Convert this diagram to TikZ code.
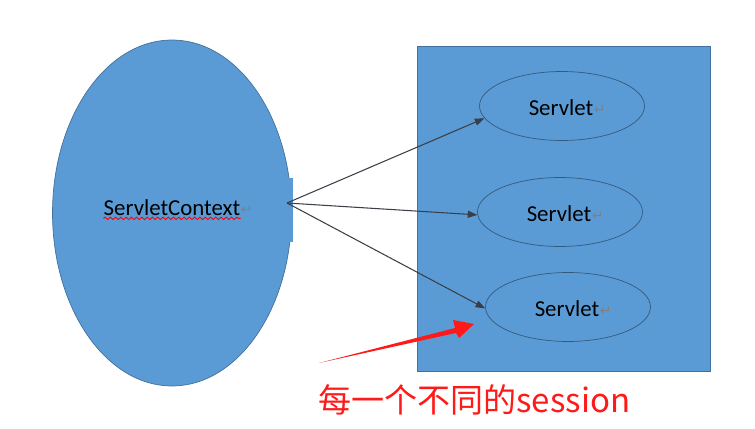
\documentclass[tikz,border=0pt]{standalone}
\usepackage{fontspec}
\setmainfont{Carlito}
\newfontfamily\cjk{Noto Sans CJK SC}
\newfontfamily\symfont{DejaVu Sans}
\usetikzlibrary{positioning, arrows.meta, shapes.geometric, decorations.pathmorphing}
\definecolor{officeblue}{HTML}{5B9BD5}
\definecolor{edgeblue}{HTML}{41719C}
\definecolor{linkgray}{HTML}{3A3F47}
\definecolor{markred}{HTML}{FF1A1A}

\begin{document}
\begin{tikzpicture}[x=0.02cm, y=-0.02cm]
	% 定义样式
	\tikzset{
		bigoval/.style={
			ellipse, draw=edgeblue, fill=officeblue, line width=0.4pt,
			minimum width=4.78cm, minimum height=6.92cm,
			inner sep=0pt, font=\fontsize{13}{15}\selectfont
		},
		servletoval/.style={
			ellipse, draw=edgeblue!80!black, line width=0.4pt,
			minimum width=3.3cm, minimum height=1.38cm,
			inner sep=0pt, font=\fontsize{13}{15}\selectfont
		},
		retmark/.style={
			anchor=west, inner sep=0pt, text=gray, yshift=-1pt,
			font=\symfont\fontsize{8}{9}\selectfont
		},
		link/.style={
			draw=linkgray, line width=0.6pt,
			-{Triangle[length=5.5pt, width=4pt]}
		}
	}
	\useasboundingbox (0,0) rectangle (755,429);
	
	% 左侧 ServletContext
	\node[bigoval] (ctx) at (172,213) {};
	\fill[officeblue] (286,178) rectangle (293,242);
	\node[inner sep=0pt, font=\fontsize{13}{15}\selectfont] (ctxtext) at (172,208) {ServletContext};
	\node[retmark] at (ctxtext.east) {↵};
	\draw[red, line width=0.5pt, decorate,
		decoration={snake, amplitude=0.7pt, segment length=3pt}]
		(ctxtext.south west) ++(0,2) coordinate (wavea) -- (ctxtext.south east |- wavea);
	\coordinate (ctxout) at (287,203);
	
	% 右侧方框和三个 Servlet
	\node[draw=edgeblue, fill=officeblue, line width=0.4pt,
		minimum width=5.86cm, minimum height=6.5cm, inner sep=0pt] (box) at (563.5,208.5) {};
	\foreach \n/\x/\y in {1/562/106, 2/560/212, 3/568/307} {
		\node[servletoval] (servlet\n) at (\x,\y) {};
		\node[inner sep=0pt, font=\fontsize{13}{15}\selectfont] (stext\n) at (\x-1,\y+2) {Servlet};
		\node[retmark] at (stext\n.east) {↵};
	}
	
	% 箭头
	\draw[link] (ctxout) -- (servlet1.189);
	\draw[link] (ctxout) -- (servlet2.182);
	\draw[link] (ctxout) -- (servlet3.181);
	
	% 红色标注
	\fill[markred] (319,363) -- (455,328) -- (453,320) -- (474,324)
		-- (459,338) -- (456,333) -- cycle;
	\node[anchor=west, inner sep=0pt, text=markred,
		font=\cjk\fontsize{18.8}{21}\selectfont] (note) at (318,400) {每一个不同的session};
\end{tikzpicture}
\end{document}
